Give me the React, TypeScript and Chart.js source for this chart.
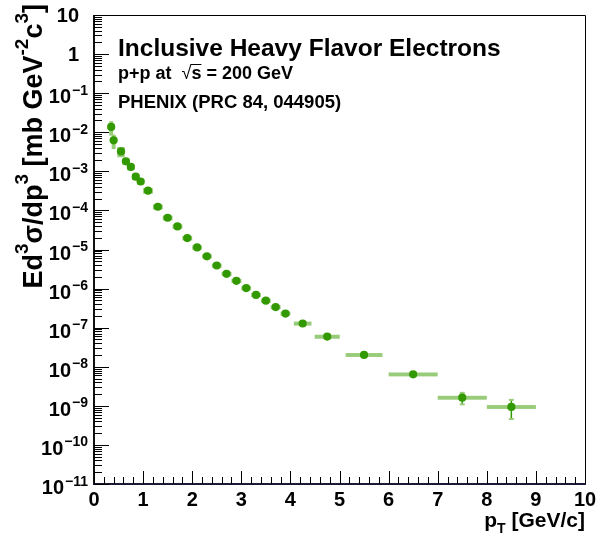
import React, { useEffect, useRef } from "react";
import { Chart, registerables } from "chart.js";

Chart.register(...registerables);

// ---- data ----
const ptValues = [
  0.35, 0.4, 0.55, 0.65, 0.75, 0.85, 0.95, 1.1, 1.3, 1.5, 1.7, 1.9, 2.1, 2.3,
  2.5, 2.7, 2.9, 3.1, 3.3, 3.5, 3.7, 3.9, 4.25, 4.75, 5.5, 6.5, 7.5, 8.5,
];
const crossSection = [
  1.37e-2, 6.2e-3, 3.24e-3, 1.8e-3, 1.3e-3, 7.3e-4, 5.5e-4, 3.2e-4, 1.24e-4,
  6.5e-5, 3.9e-5, 1.96e-5, 1.13e-5, 6.7e-6, 3.9e-6, 2.39e-6, 1.58e-6, 1.03e-6,
  6.9e-7, 4.9e-7, 3.36e-7, 2.3e-7, 1.28e-7, 5.9e-8, 2.01e-8, 6.4e-9, 1.62e-9,
  9.4e-10,
];
const statErr = [
  1.5e-3, 5e-4, 2e-4, 1e-4, 6e-5, 3e-5, 2e-5, 1e-5, 3e-6, 1.5e-6, 8e-7, 4e-7,
  2.3e-7, 1.4e-7, 8e-8, 5e-8, 3.5e-8, 2.5e-8, 1.8e-8, 1.4e-8, 1e-8, 8e-9, 5e-9,
  3e-9, 1.2e-9, 5e-10, 5.3e-10, 4.8e-10,
];
const sysErr = [
  5.5e-3, 2.5e-3, 9.5e-4, 3.2e-4, 2.3e-4, 1.3e-4, 9e-5, 5e-5, 1.8e-5, 9e-6,
  5e-6, 2.5e-6, 1.4e-6, 8e-7, 4.7e-7, 2.9e-7, 1.9e-7, 1.25e-7, 8.3e-8, 5.9e-8,
  4e-8, 2.8e-8, 1.5e-8, 7e-9, 2.3e-9, 7.3e-10, 1.85e-10, 1.07e-10,
];
const ptHalfWidth = [
  0.04, 0.04, 0.075, 0.075, 0.075, 0.075, 0.075, 0.1, 0.1, 0.1, 0.1, 0.1, 0.1,
  0.1, 0.1, 0.1, 0.1, 0.1, 0.1, 0.1, 0.1, 0.1, 0.18, 0.255, 0.375, 0.5, 0.5,
  0.5,
];
const xTickValues = [0, 1, 2, 3, 4, 5, 6, 7, 8, 9, 10];
const yTickExponents = [-11, -10, -9, -8, -7, -6, -5, -4, -3, -2, -1, 0, 1];

const titleText = "Inclusive Heavy Flavor Electrons";
const subtitleText = "PHENIX (PRC 84, 044905)";

const FONT = '"Liberation Sans", Arial, Helvetica, sans-serif';
const POINT_COLOR = "rgb(51,153,0)";
const BOX_COLOR = "rgb(153,204,122)";

export default function App() {
  const ref = useRef<HTMLCanvasElement>(null);

  useEffect(() => {
    const canvas = ref.current;
    if (!canvas) return;

    const boxesPlugin = {
      id: "sysBoxes",
      beforeDatasetsDraw(chart: any) {
        const { ctx } = chart;
        const xs = chart.scales.x;
        const ys = chart.scales.y;
        ctx.save();
        ctx.beginPath();
        ctx.rect(
          chart.chartArea.left,
          chart.chartArea.top,
          chart.chartArea.right - chart.chartArea.left,
          chart.chartArea.bottom - chart.chartArea.top
        );
        ctx.clip();
        // systematic boxes
        ctx.fillStyle = BOX_COLOR;
        ptValues.forEach((pt, i) => {
          const x0 = xs.getPixelForValue(pt - ptHalfWidth[i]);
          const x1 = xs.getPixelForValue(pt + ptHalfWidth[i]);
          const y0 = ys.getPixelForValue(crossSection[i] + sysErr[i]);
          const y1 = ys.getPixelForValue(crossSection[i] - sysErr[i]);
          ctx.fillRect(x0, y0, x1 - x0, y1 - y0);
        });
        // statistical error bars
        ptValues.forEach((pt, i) => {
          const xp = xs.getPixelForValue(pt);
          const yTop = ys.getPixelForValue(crossSection[i] + statErr[i]);
          const yBot = ys.getPixelForValue(crossSection[i] - statErr[i]);
          ctx.strokeStyle = POINT_COLOR;
          ctx.lineWidth = 1.5;
          ctx.beginPath();
          ctx.moveTo(xp, yTop);
          ctx.lineTo(xp, yBot);
          ctx.stroke();
          ctx.fillStyle = BOX_COLOR;
          ctx.fillRect(xp - 2.5, yTop - 1, 5, 2);
          ctx.fillRect(xp - 2.5, yBot - 1, 5, 2);
        });
        ctx.restore();
      },
    };

    const decorPlugin = {
      id: "rootDecor",
      afterDraw(chart: any) {
        const { ctx, chartArea } = chart;
        const xs = chart.scales.x;
        const ys = chart.scales.y;
        const L = chartArea.left;
        const R = chartArea.right;
        const T = chartArea.top;
        const B = chartArea.bottom;
        ctx.save();

        // frame
        ctx.strokeStyle = "#000";
        ctx.lineWidth = 1;
        ctx.beginPath();
        ctx.moveTo(L, T + 0.5);
        ctx.lineTo(R + 0.5, T + 0.5);
        ctx.lineTo(R + 0.5, B);
        ctx.stroke();
        ctx.lineWidth = 2;
        ctx.strokeStyle = "#111";
        ctx.beginPath();
        ctx.moveTo(L, T);
        ctx.lineTo(L, B + 1);
        ctx.stroke();
        ctx.strokeStyle = "#1a1a38";
        ctx.beginPath();
        ctx.moveTo(L - 1, B);
        ctx.lineTo(R + 1, B);
        ctx.stroke();

        // y ticks
        ctx.strokeStyle = "#000";
        ctx.lineWidth = 1;
        yTickExponents.forEach((e) => {
          const yp = Math.round(ys.getPixelForValue(Math.pow(10, e))) + 0.5;
          ctx.beginPath();
          ctx.moveTo(L, yp);
          ctx.lineTo(L + 15, yp);
          ctx.stroke();
          if (e < 1) {
            for (let m = 2; m <= 9; m++) {
              const ym =
                Math.round(ys.getPixelForValue(m * Math.pow(10, e))) + 0.5;
              ctx.beginPath();
              ctx.moveTo(L, ym);
              ctx.lineTo(L + 8, ym);
              ctx.stroke();
            }
          }
        });
        // x ticks
        xTickValues.forEach((v) => {
          const xp = Math.round(xs.getPixelForValue(v)) + 0.5;
          ctx.beginPath();
          ctx.moveTo(xp, B);
          ctx.lineTo(xp, B - 13);
          ctx.stroke();
          if (v < 10) {
            for (let k = 1; k <= 4; k++) {
              const xm = Math.round(xs.getPixelForValue(v + k * 0.2)) + 0.5;
              ctx.beginPath();
              ctx.moveTo(xm, B);
              ctx.lineTo(xm, B - 7);
              ctx.stroke();
            }
          }
        });

        // x tick labels
        ctx.fillStyle = "#000";
        ctx.font = `bold 20px ${FONT}`;
        ctx.textAlign = "center";
        ctx.textBaseline = "alphabetic";
        xTickValues.forEach((v) => {
          const xp = xs.getPixelForValue(v);
          ctx.fillText(String(v), xp, 506);
        });

        // y tick labels
        const labelRight = 88;
        const plainRight = 79;
        yTickExponents.forEach((e) => {
          const yp = ys.getPixelForValue(Math.pow(10, e));
          ctx.textAlign = "left";
          if (e === 1 || e === 0) {
            ctx.font = `bold 20px ${FONT}`;
            const s = e === 1 ? "10" : "1";
            const w = ctx.measureText(s).width;
            ctx.fillText(s, plainRight - w, yp + 7);
          } else {
            const expStr = "\u2212" + String(-e);
            ctx.font = `bold 14px ${FONT}`;
            const ew = ctx.measureText(expStr).width;
            ctx.font = `bold 20px ${FONT}`;
            const bw = ctx.measureText("10").width;
            const bx = labelRight - ew - bw - 1;
            ctx.fillText("10", bx, yp + 10);
            ctx.font = `bold 14px ${FONT}`;
            ctx.fillText(expStr, labelRight - ew, yp + 1.5);
          }
        });

        // x axis title: p_T [GeV/c]
        {
          const base = 527;
          ctx.font = `bold 21px ${FONT}`;
          const wRest = ctx.measureText(" [GeV/c]").width;
          const wP = ctx.measureText("p").width;
          ctx.font = `bold 14px ${FONT}`;
          const wT = ctx.measureText("T").width;
          const x0 = R - (wP + wT + wRest);
          ctx.font = `bold 21px ${FONT}`;
          ctx.fillText("p", x0, base);
          ctx.font = `bold 14px ${FONT}`;
          ctx.fillText("T", x0 + wP, base + 6);
          ctx.font = `bold 21px ${FONT}`;
          ctx.fillText(" [GeV/c]", x0 + wP + wT, base);
        }

        // y axis title (rotated)
        {
          const pieces: [string, boolean][] = [
            ["Ed", false],
            ["3", true],
            ["\u03c3/dp", false],
            ["3", true],
            [" [mb GeV", false],
            ["-2", true],
            ["c", false],
            ["3", true],
            ["]", false],
          ];
          const baseFont = `bold 27px ${FONT}`;
          const supFont = `bold 19px ${FONT}`;
          let total = 0;
          const widths = pieces.map(([s, sup]) => {
            ctx.font = sup ? supFont : baseFont;
            const w = ctx.measureText(s).width;
            total += w;
            return w;
          });
          ctx.translate(42, 4);
          ctx.rotate(-Math.PI / 2);
          let cx = -total;
          pieces.forEach(([s, sup], i) => {
            ctx.font = sup ? supFont : baseFont;
            ctx.fillText(s, cx, sup ? -14 : 0);
            cx += widths[i];
          });
          ctx.setTransform(1, 0, 0, 1, 0, 0);
        }

        // in-plot text
        ctx.textAlign = "left";
        ctx.font = `bold 24.5px ${FONT}`;
        ctx.fillText(titleText, 118, 56);
        ctx.font = `bold 18px ${FONT}`;
        let tx = 118;
        const part1 = "p+p at  ";
        ctx.fillText(part1, tx, 79);
        tx += ctx.measureText(part1).width;
        ctx.font = `18px ${FONT}`;
        ctx.fillText("\u221a", tx, 79);
        const wr = ctx.measureText("\u221a").width;
        ctx.lineWidth = 1;
        ctx.strokeStyle = "#000";
        ctx.beginPath();
        ctx.moveTo(tx + wr - 1, 64.5);
        ctx.lineTo(tx + wr + 10, 64.5);
        ctx.stroke();
        tx += wr;
        ctx.font = `bold 18px ${FONT}`;
        ctx.fillText("s = 200 GeV", tx, 79);
        ctx.font = `bold 18.5px ${FONT}`;
        ctx.fillText(subtitleText, 118, 108);

        ctx.restore();
      },
    };

    const chart = new Chart(canvas, {
      type: "scatter",
      data: {
        datasets: [
          {
            data: ptValues.map((x, i) => ({ x, y: crossSection[i] })),
            pointRadius: 4.1,
            pointHoverRadius: 4.1,
            pointBackgroundColor: POINT_COLOR,
            pointBorderWidth: 0,
            borderColor: POINT_COLOR,
            showLine: false,
          },
        ],
      },
      options: {
        animation: false,
        responsive: false,
        devicePixelRatio: 1,
        layout: { padding: { left: 94, right: 12, top: 15, bottom: 52 } },
        plugins: {
          legend: { display: false },
          tooltip: { enabled: false },
        },
        scales: {
          x: { type: "linear", min: 0, max: 10, display: false },
          y: { type: "logarithmic", min: 1e-11, max: 10, display: false },
        },
      },
      plugins: [boxesPlugin, decorPlugin],
    });

    return () => chart.destroy();
  }, []);

  return (
    <div
      style={{
        position: "fixed",
        left: 0,
        top: 0,
        width: 597,
        height: 536,
        background: "#fff",
      }}
    >
      <canvas
        ref={ref}
        width={597}
        height={536}
        style={{ width: 597, height: 536, display: "block" }}
      />
    </div>
  );
}
